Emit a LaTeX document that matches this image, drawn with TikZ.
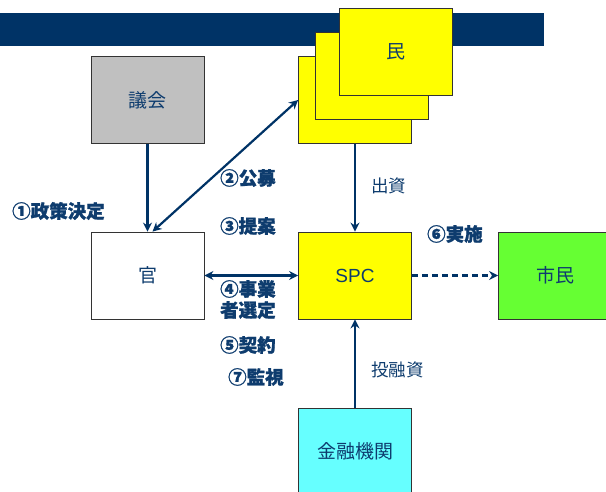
\documentclass[tikz,border=0pt]{standalone}
\usepackage{fontspec}
\setmainfont{Liberation Sans}
\newfontfamily\cjk{Noto Sans CJK JP}
\newfontfamily\cjkB[BoldFeatures={FakeBold=1.2}]{Noto Sans CJK JP}
\usetikzlibrary{arrows.meta,calc}
\definecolor{navy}{HTML}{003366}
\definecolor{txt}{HTML}{0E3C6E}
\definecolor{grayfill}{HTML}{C0C0C0}
\definecolor{yel}{HTML}{FFFF00}
\definecolor{cyanfill}{HTML}{66FFFF}
\definecolor{greenfill}{HTML}{66FF33}
\definecolor{edge}{HTML}{333333}
\tikzset{
  box/.style={draw=edge,line width=0.8pt,minimum width=113pt,minimum height=87pt,inner sep=0pt,
    text=txt,font=\cjk\fontsize{19}{19}\selectfont},
  lbl/.style={text=txt,font=\cjkB\bfseries\fontsize{18.5}{21}\selectfont,inner sep=0pt,align=left},
  plain/.style={text=txt,font=\cjk\fontsize{17.5}{19}\selectfont,inner sep=0pt},
  conn/.style={draw=navy,line width=2.2pt,-{Stealth[length=9pt,width=9pt]}},
  conn2/.style={draw=navy,line width=2.2pt,{Stealth[length=9pt,width=9pt]}-{Stealth[length=9pt,width=9pt]}}
}
\begin{document}
\begin{tikzpicture}[x=1pt,y=-1pt]
\useasboundingbox (0,0) rectangle (606,492);
\fill[navy] (0,13) rectangle (544,46);
% boxes
\node[box,fill=grayfill] (gikai) at (147.5,100) {議会};
\node[box,fill=yel] (min1) at (355,100) {};
\node[box,fill=yel] (min2) at (371.5,76) {};
\node[box,fill=yel] (min3) at (395.5,52) {民};
\node[box,fill=white] (kan) at (147.5,275.5) {官};
\node[box,fill=yel] (spc) at (355,275.5) {\rmfamily SPC};
\node[box,fill=greenfill] (shimin) at (555,275.5) {市民};
\node[box,fill=cyanfill] (kinyu) at (355,451.5) {金融機関};
% connectors
\draw[conn] (gikai.south) -- (kan.north);
\draw[conn2] ($(kan.north)+(5,0)$) -- (min1.west);
\draw[conn] (min1.south) -- (spc.north);
\draw[conn2] (kan.east) -- (spc.west);
\draw[conn,dash pattern=on 6pt off 4pt] (spc.east) -- (shimin.west);
\draw[conn] (kinyu.north) -- (spc.south);
% labels
\node[lbl,anchor=west] (l1) at (12,211) {①政策決定};
\node[lbl,anchor=west] (l2) at (220,178) {②公募};
\node[lbl,anchor=west] (l3) at (220,226) {③提案};
\node[lbl,anchor=north west] (l4) at (220,280) {④事業\\者選定};
\node[lbl,anchor=west] (l5) at (220,345) {⑤契約};
\node[lbl,anchor=west] (l7) at (228,377) {⑦監視};
\node[lbl,anchor=west] (l6) at (427,234) {⑥実施};
\node[plain,anchor=west] (d1) at (371,186) {出資};
\node[plain,anchor=west] (d2) at (371,370) {投融資};
\end{tikzpicture}
\end{document}
